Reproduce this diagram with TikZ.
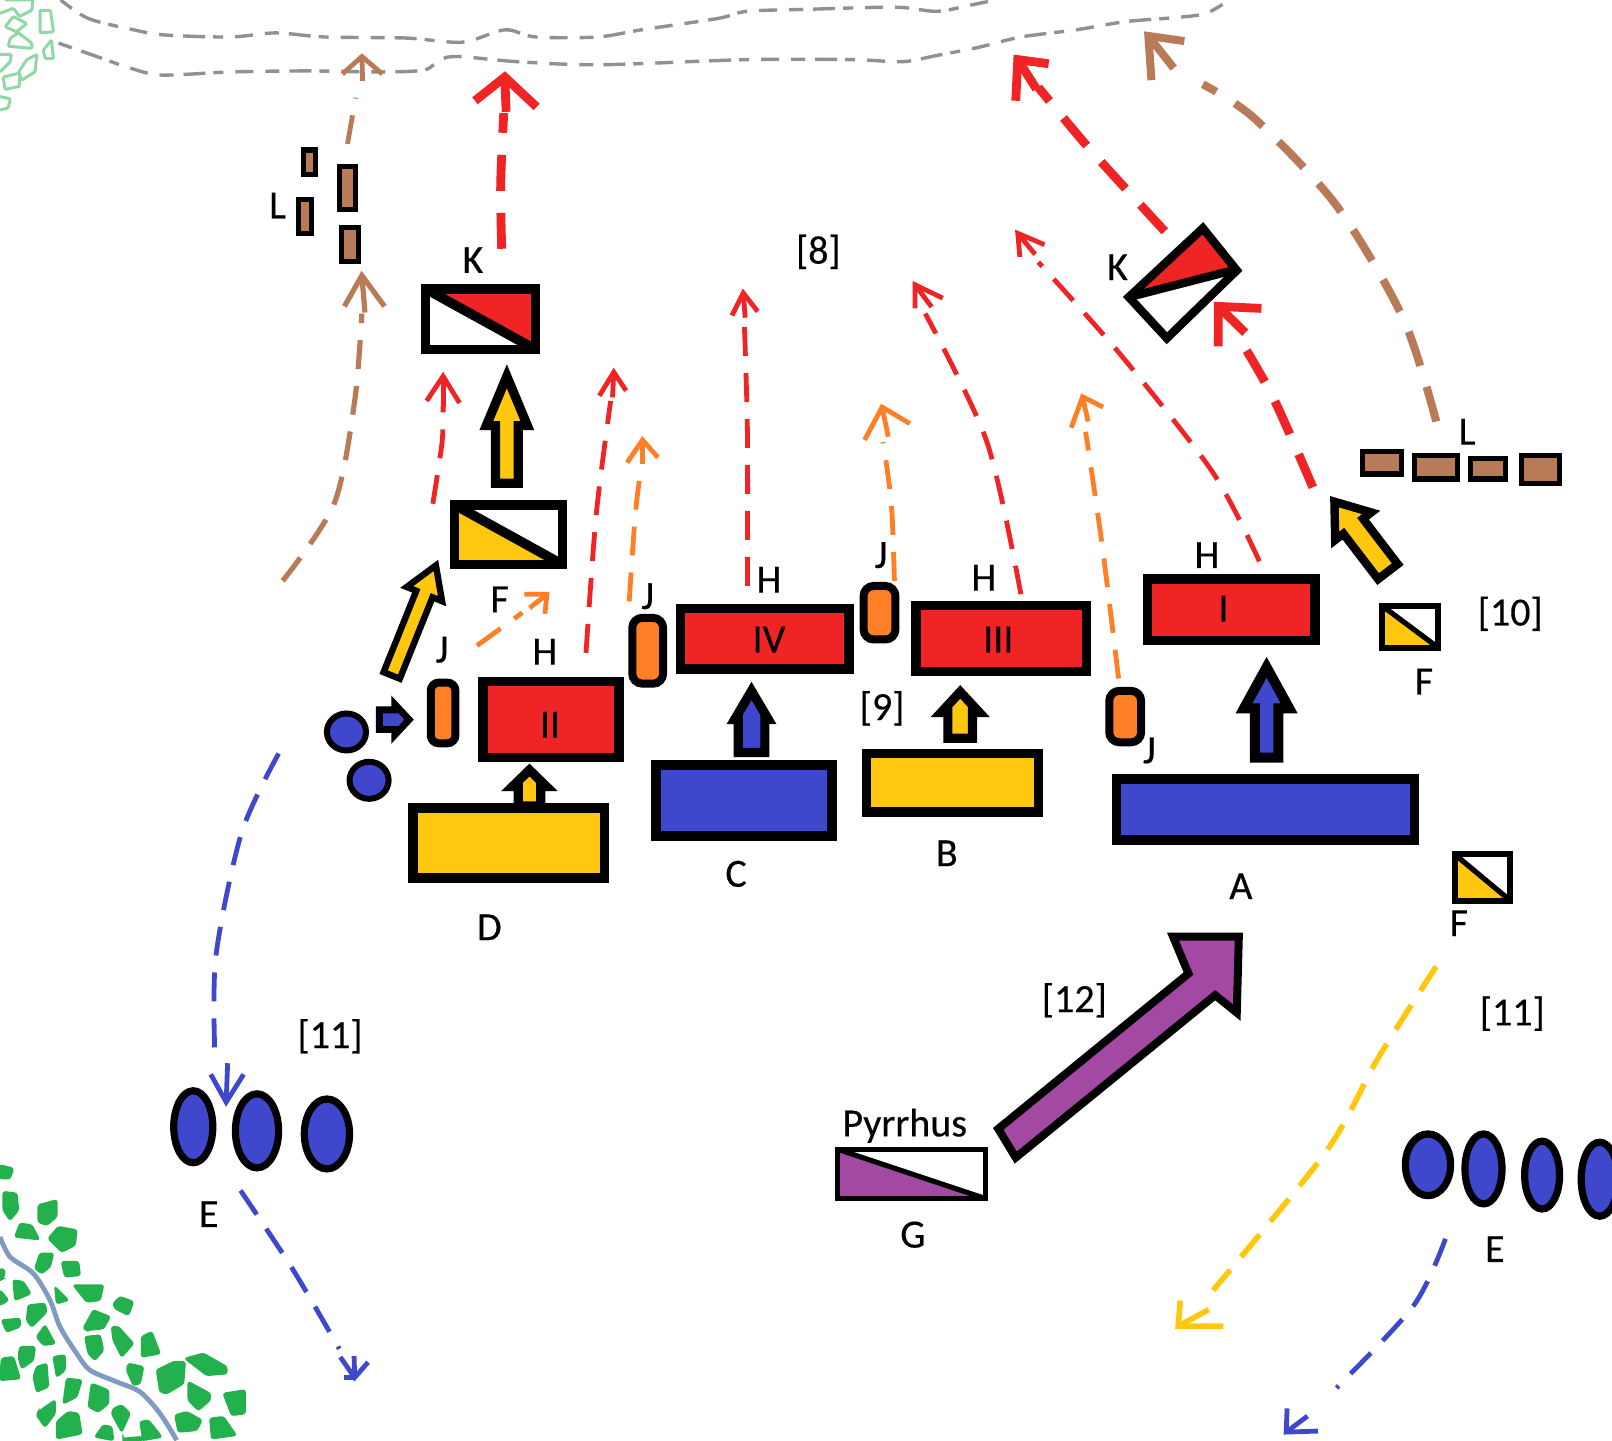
\documentclass[tikz,border=0pt]{standalone}
\usepackage{fontspec}
\setmainfont{Carlito}
\newfontfamily\labfont[FakeBold=0.35]{Carlito}
\usetikzlibrary{calc}
\definecolor{pred}{HTML}{F02424}
\definecolor{pyel}{HTML}{FFC80E}
\definecolor{pblu}{HTML}{3F48CC}
\definecolor{pora}{HTML}{FF7F27}
\definecolor{pbro}{HTML}{B97A57}
\definecolor{ppur}{HTML}{A349A4}
\definecolor{pgre}{HTML}{22B14C}
\definecolor{pgry}{HTML}{8F9196}
\definecolor{priv}{HTML}{7F9BC4}
\tikzset{
 unitbox/.style={draw=black,line width=4.8pt},
 smallbox/.style={draw=black,line width=3pt},
 thinbox/.style={draw=black,line width=2.5pt},
 blockar/.style={draw=black,line width=4.6pt},
 oval/.style={draw=black,line width=3.6pt},
 lab/.style={font=\labfont\fontsize{20}{22}\selectfont,inner sep=0pt,text=black},
 thn/.style={line width=2.4pt,dash pattern=on 14.5pt off 8.5pt},
 thk/.style={line width=4.4pt,dash pattern=on 18pt off 11pt},
 hthn/.style={line width=2.4pt},
 hthk/.style={line width=4.4pt},
 blob/.style={fill=pgre,draw=pgre,line width=0.9pt,rounded corners=1.2pt},
 oblob/.style={draw=pgre!50,line width=1.5pt,rounded corners=0.6pt},
 topline/.style={draw=pgry,line width=1.7pt,dash pattern=on 7pt off 5pt on 11pt off 4pt on 5pt off 6pt on 9pt off 6pt},
}
\newcommand\blockarr[9][]{%
 \pgfmathsetmacro\baDx{#4-#2}\pgfmathsetmacro\baDy{#5-#3}%
 \pgfmathsetmacro\baL{veclen(\baDx,\baDy)}%
 \pgfmathsetmacro\baUx{\baDx/\baL}\pgfmathsetmacro\baUy{\baDy/\baL}%
 \pgfmathsetmacro\baBx{#4-#8*\baUx}\pgfmathsetmacro\baBy{#5-#8*\baUy}%
 \draw[blockar,fill=#9,#1]
  ({#2-\baUy*#6/2},{#3+\baUx*#6/2}) -- ({\baBx-\baUy*#6/2},{\baBy+\baUx*#6/2})
  -- ({\baBx-\baUy*#7/2},{\baBy+\baUx*#7/2}) -- (#4,#5)
  -- ({\baBx+\baUy*#7/2},{\baBy-\baUx*#7/2}) -- ({\baBx+\baUy*#6/2},{\baBy-\baUx*#6/2})
  -- ({#2+\baUy*#6/2},{#3-\baUx*#6/2}) -- cycle;}
\newcommand\barbhead[5]{% style, tip, barb1, barb2, stem factor
 \draw[#1] (#3) -- (#2) -- (#4);
 \draw[#1] (#2) -- ($(#2)!#5!($(#3)!.5!(#4)$)$);}
\begin{document}
\begin{tikzpicture}[x=0.514pt,y=-0.514pt,line join=miter]
\useasboundingbox (0,0) rectangle (1568,1401);
\clip (0,0) rectangle (1568,1401);
% top grey lines
\draw[topline] plot[smooth,tension=.5] coordinates {(59,0)(86,18)(130,29)(160,34)(224,36)(268,32)(316,36)(395,37)(450,41)(491,29)(521,36)(581,36)(624,29)(698,18)(727,11)(788,9)(871,7)(911,11)(944,5)(968,0)};
\draw[topline] plot[smooth,tension=.5] coordinates {(57,42)(97,56)(126,66)(157,73)(224,70)(298,69)(372,70)(413,68)(428,58)(446,55)(503,60)(584,63)(727,58)(829,58)(878,60)(911,54)(952,46)(993,36)(1047,29)(1095,21)(1145,17)(1173,13)(1196,0)};
% outlined wood top-left
\draw[oblob] (5,0)--(32,0)--(31,10)--(19,16)--(13,8)--(0,13);
\draw[oblob] (13,16)--(26,23)--(16,31)--(5,26)--cycle;
\draw[oblob] (39,10)--(49,10)--(52,31)--(39,32)--cycle;
\draw[oblob] (10,37)--(18,32)--(31,42)--(31,47)--(8,45)--cycle;
\draw[oblob] (42,49)--(50,39)--(52,57)--(44,57)--cycle;
\draw[oblob] (18,70)--(26,58)--(36,53)--(34,70)--(21,78)--cycle;
\draw[oblob] (0,53)--(11,53)--(10,60)--(0,70);
\draw[oblob] (3,75)--(19,71)--(19,84)--(5,87)--cycle;
\draw[oblob] (0,94)--(10,96)--(8,105)--(0,107);
% wood + river bottom-left
\begin{scope}[shift={(0,1109)},x=0.1667pt,y=-0.1667pt]
\foreach \p in {
 {(0,75)--(40,85)--(30,115)--(0,115)},
 {(10,155)--(50,160)--(55,210)--(30,240)--(10,210)},
 {(115,195)--(170,180)--(170,230)--(140,255)--(115,245)},
 {(45,290)--(60,250)--(95,255)--(118,298)},
 {(145,295)--(175,260)--(230,270)--(225,315)--(185,335)},
 {(105,385)--(120,340)--(160,340)--(150,380)--(125,400)},
 {(185,365)--(235,365)--(240,405)--(195,410)},
 {(40,420)--(70,425)--(92,460)--(45,480)},
 {(0,385)--(15,390)--(10,415)--(0,420)},
 {(165,440)--(205,480)--(170,490)},
 {(220,435)--(310,435)--(300,480)--(260,485)},
 {(340,490)--(360,470)--(400,485)--(385,525)--(345,505)},
 {(0,450)--(25,480)--(0,495)},
 {(85,495)--(135,490)--(140,515)--(95,560)--(80,540)},
 {(5,540)--(60,535)--(60,560)--(20,575)},
 {(110,590)--(135,555)--(165,610)--(130,615)},
 {(250,565)--(280,510)--(330,530)--(310,565)--(260,570)},
 {(255,590)--(300,585)--(310,630)--(285,660)--(265,640)},
 {(335,560)--(355,560)--(400,610)--(365,650)--(340,600)},
 {(425,590)--(455,575)--(480,640)--(425,650)},
 {(60,620)--(105,620)--(100,660)--(65,685)--(55,650)},
 {(160,650)--(195,645)--(195,690)--(170,710)},
 {(5,655)--(40,650)--(60,715)--(0,720)},
 {(110,680)--(140,670)--(145,740)--(110,755)--(100,710)},
 {(385,670)--(430,680)--(420,730)--(400,735)--(380,690)},
 {(470,690)--(520,665)--(555,665)--(550,730)--(500,760)--(480,755)},
 {(555,655)--(610,640)--(680,680)--(680,700)--(620,705)},
 {(565,725)--(630,760)--(630,780)--(595,810)--(565,780)},
 {(670,760)--(735,750)--(735,820)--(695,825)},
 {(200,715)--(245,720)--(230,770)--(190,790)},
 {(275,730)--(325,750)--(325,790)--(295,815)--(265,800)},
 {(115,815)--(165,780)--(165,820)--(135,860)--(110,825)},
 {(340,805)--(365,795)--(390,820)--(365,875)--(335,820)},
 {(170,845)--(205,815)--(235,820)--(245,880)--(170,895)},
 {(285,890)--(310,855)--(335,860)--(340,900)},
 {(420,845)--(445,840)--(485,890)--(430,900)},
 {(525,825)--(560,815)--(605,840)--(590,870)--(535,875)},
 {(630,835)--(670,830)--(708,885)--(635,895)},
 {(370,895)--(425,890)--(430,900)--(370,900)}}
 {\expandafter\path\expandafter[blob] \p -- cycle;}
\draw[priv,line width=2.4pt] plot[smooth,tension=.5] coordinates {(0,290)(30,350)(100,400)(150,480)(180,560)(230,640)(270,690)(350,725)(420,755)(480,820)(530,900)};
\end{scope}
% formation blocks
\draw[unitbox,fill=pyel] (402,786) rectangle (588,854);
\draw[unitbox,fill=pblu] (638,744) rectangle (809,813);
\draw[unitbox,fill=pyel] (843,733) rectangle (1010,790);
\draw[unitbox,fill=pblu] (1086,758) rectangle (1376,817);
\draw[unitbox,fill=pred] (470,663) rectangle (602,737);
\draw[unitbox,fill=pred] (662,592) rectangle (826,651);
\draw[unitbox,fill=pred] (891,589) rectangle (1057,653);
\draw[unitbox,fill=pred] (1116,563) rectangle (1279,623);
% split boxes
\fill[pred] (414,281) -- (521,281) -- (521,340) -- cycle;
\draw[black,line width=4.8pt] (414,281) -- (521,340);
\draw[unitbox] (414,281) rectangle (521,340);
\fill[pyel] (442,491) -- (547,549) -- (442,549) -- cycle;
\draw[black,line width=4.8pt] (442,491) -- (547,549);
\draw[unitbox] (442,491) rectangle (547,549);
\fill[pyel] (1344,589) -- (1399,630) -- (1344,630) -- cycle;
\draw[black,line width=2.6pt] (1344,589) -- (1399,630);
\draw[smallbox] (1344,589) rectangle (1399,630);
\fill[pyel] (1415,831) -- (1469,876) -- (1415,876) -- cycle;
\draw[black,line width=2.6pt] (1415,831) -- (1469,876);
\draw[smallbox] (1415,831) rectangle (1469,876);
\fill[ppur] (815,1118) -- (959,1166) -- (815,1166) -- cycle;
\draw[black,line width=2.6pt] (815,1118) -- (959,1166);
\draw[thinbox] (815,1118) rectangle (959,1166);
% rotated K
\fill[pred] (1098,289) -- (1170,222) -- (1203,263) -- cycle;
\draw[black,line width=4.2pt] (1098,289) -- (1203,262);
\draw[unitbox,line width=4.2pt] (1098,289) -- (1170,222) -- (1203,263) -- (1135,329) -- cycle;
% J cohorts
\draw[oval,line width=4pt,fill=pora,rounded corners=4pt] (419,664) rectangle (443,723);
\draw[oval,line width=4pt,fill=pora,rounded corners=5pt] (615,601) rectangle (645,665);
\draw[oval,line width=4pt,fill=pora,rounded corners=5pt] (840,570) rectangle (871,622);
\draw[oval,line width=4pt,fill=pora,rounded corners=5pt] (1079,672) rectangle (1110,722);
% circles and ellipses
\draw[oval,line width=3pt,fill=pblu] (337,712) ellipse [x radius=19,y radius=18];
\draw[oval,line width=3pt,fill=pblu] (359,759) ellipse [x radius=19,y radius=18];
\draw[oval,fill=pblu] (188,1096) ellipse [x radius=19,y radius=35];
\draw[oval,fill=pblu] (250,1100) ellipse [x radius=21,y radius=36];
\draw[oval,fill=pblu] (318,1103) ellipse [x radius=22,y radius=34];
\draw[oval,fill=pblu] (1389,1133) ellipse [x radius=22,y radius=30];
\draw[oval,fill=pblu] (1443,1137) ellipse [x radius=18,y radius=34];
\draw[oval,fill=pblu] (1500,1143) ellipse [x radius=17,y radius=33];
\draw[oval,fill=pblu] (1556,1147) ellipse [x radius=18,y radius=36];
% L skirmishers
\foreach \a/\b/\c/\d in {295/146/307/170,330/162/346/204,290/194/303/227,332/221/349/254,1325/439/1363/461,1376/443/1418/466,1430/446/1464/466,1480/443/1517/470}
 \draw[black,line width=2.6pt,fill=pbro] (\a,\b) rectangle (\c,\d);
% block arrows
\draw[blockar,line width=4pt,fill=ppur] (971,1098) -- (1156,947) -- (1141,911) -- (1205,911) -- (1203,985) -- (1182,968) -- (988,1126) -- cycle;
\blockarr[line width=3.2pt]{381}{657}{424}{550}{17}{37}{30}{pyel}
\blockarr{493}{470}{493}{366}{22}{40}{48}{pyel}
\blockarr[line width=4.2pt]{1350}{556}{1298}{488}{24}{44}{30}{pyel}
\blockarr[line width=5pt]{1232}{737}{1232}{649}{23}{44}{40}{pblu}
\blockarr{731}{732}{731}{672}{26}{33}{28}{pblu}
\blockarr{934}{718}{934}{673}{24}{37}{20}{pyel}
\blockarr{515}{784}{515}{749}{22}{33}{16}{pyel}
\blockarr[line width=3.4pt]{369}{700}{398}{700}{19}{30}{14}{pblu}
% dashed red thick
\draw[pred,thk] plot[smooth] coordinates {(488,242)(487,180)(490,110)};
\barbhead{pred,hthk}{491,75}{462,98}{522,104}{1.3}
\draw[pred,thk] plot[smooth] coordinates {(1133,225)(1060,145)(1010,85)};
\barbhead{pred,hthk}{990,58}{988,98}{1020,62}{1.3}
\draw[pred,thk] plot[smooth] coordinates {(1277,474)(1240,390)(1212,340)};
\barbhead{pred,hthk}{1185,298}{1185,337}{1227,300}{1.25}
% dashed red thin
\draw[pred,thn] plot[smooth] coordinates {(421,490)(430,430)(431,395)};
\barbhead{pred,hthn}{431,366}{415,390}{447,392}{1.2}
\draw[pred,thn] plot[smooth] coordinates {(570,635)(580,500)(594,390)};
\barbhead{pred,hthn}{597,362}{583,385}{609,380}{1.2}
\draw[pred,thn] plot[smooth] coordinates {(727,570)(727,420)(724,315)};
\barbhead{pred,hthn}{723,285}{712,307}{737,303}{1.2}
\draw[pred,thn] plot[smooth] coordinates {(993,578)(960,430)(900,305)};
\barbhead{pred,hthn}{890,277}{890,300}{917,290}{1.2}
\draw[pred,thn] plot[smooth] coordinates {(1225,546)(1180,460)(1090,345)(1010,255)};
\barbhead{pred,hthn}{990,227}{992,250}{1016,238}{1.2}
% dashed orange
\draw[pora,thn] (464,628) -- (508,596);
\barbhead{pora,hthn}{532,578}{510,578}{530,597}{1.4}
\draw[pora,thn] plot[smooth] coordinates {(612,585)(618,500)(623,460)};
\barbhead{pora,hthn}{625,428}{610,450}{640,445}{1.2}
\draw[pora,thn] plot[smooth] coordinates {(870,565)(867,490)(859,430)};
\barbhead{pora,hthn}{858,396}{841,428}{885,412}{1.2}
\draw[pora,thn] plot[smooth] coordinates {(1088,660)(1072,530)(1056,420)};
\barbhead{pora,hthn}{1053,386}{1042,416}{1073,396}{1.2}
% dashed brown
\draw[pbro,thn] (338,140) -- (346,95);
\barbhead{pbro,hthn}{352,55}{333,72}{372,72}{1.4}
\draw[pbro,thn,line width=2.6pt] plot[smooth] coordinates {(275,565)(325,490)(345,390)(352,305)};
\barbhead{pbro,hthn,line width=2.6pt}{352,268}{335,298}{374,298}{1.2}
\draw[pbro,thk,line width=4pt] plot[smooth] coordinates {(1397,410)(1365,310)(1300,200)(1220,115)(1170,82)};
\barbhead{pbro,hthk,line width=4pt}{1117,35}{1120,78}{1152,40}{1.3}
% dashed blue
\draw[pblu,thn] plot[smooth] coordinates {(271,733)(235,810)(210,930)(209,1025)};
\barbhead{pblu,hthn}{220,1072}{205,1045}{237,1045}{1.4}
\draw[pblu,thn] plot[smooth] coordinates {(234,1158)(285,1235)(330,1312)};
\barbhead{pblu,hthn}{345,1340}{331,1320}{358,1325}{1.2}
\draw[pblu,hthn] (335,1340) -- (345,1340);
\draw[pblu,thn] plot[smooth] coordinates {(1406,1205)(1375,1270)(1300,1350)};
\barbhead{pblu,hthn}{1251,1393}{1252,1370}{1282,1392}{1.3}
% dashed yellow
\draw[pyel,thn,line width=2.8pt] plot[smooth] coordinates {(1397,940)(1340,1030)(1290,1120)(1180,1255)};
\barbhead{pyel,hthn,line width=2.8pt}{1146,1290}{1148,1265}{1190,1290}{1.3}
% labels
\node[lab] (ll) at (270,200) {L};
\node[lab] (kl) at (460,253) {K};
\node[lab] (fa) at (486,583) {F};
\node[lab] (ja) at (430,632) {J};
\node[lab] (ha) at (530,634) {H};
\node[lab] (jb) at (630,580) {J};
\node[lab] (hb) at (748,564) {H};
\node[lab] (jc) at (857,540) {J};
\node[lab] (hc) at (957,562) {H};
\node[lab] (hd) at (1174,540) {H};
\node[lab] (r1) at (1190,592) {I};
\node[lab] (r4) at (748,622) {IV};
\node[lab] (r3) at (971,622) {III};
\node[lab] (r2) at (535,705) {II};
\node[lab] (kr) at (1087,260) {K};
\node[lab] (lr) at (1427,420) {L};
\node[lab] (n8) at (796,245) {[8]};
\node[lab] (n10) at (1469,597) {[10]};
\node[lab] (fb) at (1385,663) {F};
\node[lab] (n9) at (858,689) {[9]};
\node[lab] (jd) at (1118,730) {J};
\node[lab] (ld) at (476,902) {D};
\node[lab] (lc) at (716,850) {C};
\node[lab] (lb) at (921,830) {B};
\node[lab] (la) at (1207,862) {A};
\node[lab] (fc) at (1419,898) {F};
\node[lab] (n11b) at (1471,986) {[11]};
\node[lab] (n12) at (1045,973) {[12]};
\node[lab] (n11a) at (321,1008) {[11]};
\node[lab] (ea) at (203,1181) {E};
\node[lab] (eb) at (1454,1215) {E};
\node[lab] (lg) at (888,1201) {G};
\node[lab] (py) at (880,1095) {Pyrrhus};
\end{tikzpicture}
\end{document}
